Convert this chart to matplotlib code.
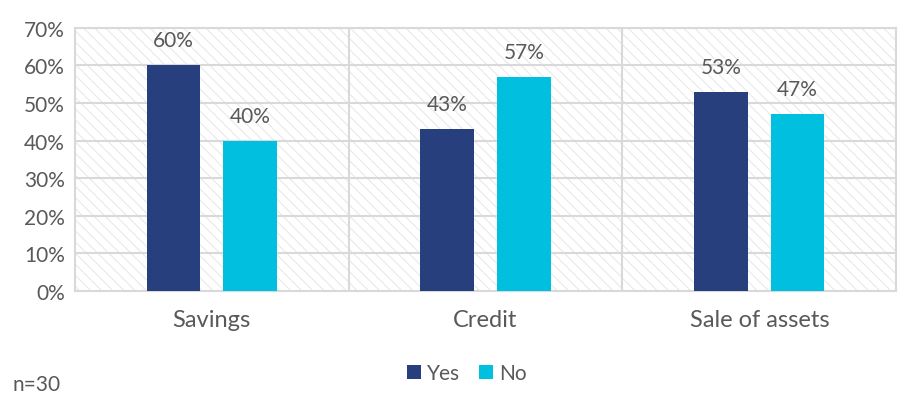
import numpy as np
import matplotlib.pyplot as plt
from matplotlib.patches import Rectangle

categories = ["Savings", "Credit", "Sale of assets"]
yes_vals = [60, 43, 53]
no_vals = [40, 57, 47]
series_names = ["Yes", "No"]

navy = "#273f7d"
cyan = "#00bfdf"
grey_txt = "#595959"
grid_col = "#d9d9d9"

plt.rcParams['font.family'] = ['Lato', 'DejaVu Sans']
plt.rcParams['hatch.color'] = "#e6e6e6"
plt.rcParams['hatch.linewidth'] = 0.7

fig = plt.figure(figsize=(9.23, 4.10), dpi=100)
ax = fig.add_axes([0.081, 0.288, 0.890, 0.642])

x = np.arange(len(categories))
w = 0.195
off = 0.14

# hatched plot background
ax.add_patch(Rectangle((0, 0), 1, 1, transform=ax.transAxes, facecolor="white",
                       edgecolor="#e6e6e6", hatch="\\\\\\", lw=0, zorder=0))

b1 = ax.bar(x - off, yes_vals, w, color=navy, zorder=3, label=series_names[0])
b2 = ax.bar(x + off, no_vals, w, color=cyan, zorder=3, label=series_names[1])

for bars, vals in ((b1, yes_vals), (b2, no_vals)):
    for r, v in zip(bars, vals):
        ax.text(r.get_x() + r.get_width() / 2, v + 6.6, f"{v}%", ha="center",
                va="center", fontsize=15, color=grey_txt)

ax.set_xlim(-0.5, len(categories) - 0.5)
ax.set_ylim(0, 70)
ax.set_yticks(range(0, 71, 10))
ax.set_yticklabels([f"{t}%" for t in range(0, 71, 10)])
ax.set_xticks(x)
ax.set_xticklabels(categories)
ax.tick_params(axis="both", length=0, labelcolor=grey_txt)
ax.tick_params(axis="x", pad=13, labelsize=17)
ax.tick_params(axis="y", pad=7, labelsize=15)

for t in range(10, 71, 10):
    ax.axhline(t, color=grid_col, lw=1.5, zorder=1)
for s in np.arange(0.5, len(categories) - 0.5, 1):
    ax.axvline(s, color=grid_col, lw=1.5, zorder=1)
for sp in ax.spines.values():
    sp.set_color(grid_col)
    sp.set_linewidth(1.5)

fig.legend(handles=[b1, b2], loc="center", bbox_to_anchor=(0.506, 0.087), ncol=2,
           frameon=False, fontsize=15, handlelength=0.65, handleheight=0.65,
           handletextpad=0.3, columnspacing=0.9, labelcolor=grey_txt)
fig.text(0.014, 0.06, "n=30", fontsize=15, color=grey_txt, ha="left", va="center")

fig.savefig("out.png", dpi=100)
